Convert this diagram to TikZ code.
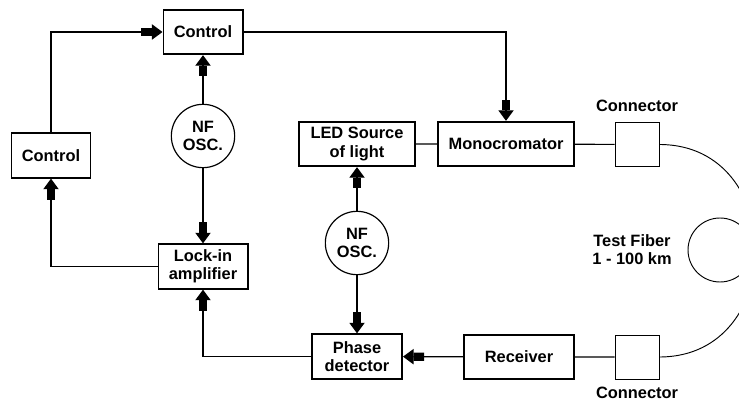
\documentclass[tikz,border=0pt]{standalone}
\usepackage{fontspec}
\setmainfont{Liberation Sans}
\usepackage{tikz}
\usetikzlibrary{arrows.meta,positioning}

\begin{document}
\begin{tikzpicture}[
  x=0.03cm,y=-0.03cm,
  every node/.style={font=\fontsize{14}{15.5}\selectfont\bfseries},
  box/.style={draw,line width=1.7pt,align=center,inner sep=0pt,
              minimum height=1.33cm},
  osc/.style={draw,line width=1pt,circle,align=center,inner sep=0pt,
              minimum size=1.9cm},
  port/.style={draw,line width=0.8pt,minimum size=1.32cm,inner sep=0pt},
  lbl/.style={align=center,inner sep=0pt},
  wire/.style={line width=1pt},
  feed/.style={wire,-{Rectangle[length=9pt,width=7pt]Triangle[length=9pt,width=13pt]}}
]
\useasboundingbox (0,0) rectangle (739,405);
\node[box,minimum width=2.37cm] (ctrlT) at (203,32) {Control};
\node[box,minimum width=2.37cm] (ctrlL) at (51,155.5) {Control};
\node[osc] (osc1) at (203,136) {NF\\OSC.};
\node[box,minimum width=2.67cm] (lockin) at (203,266.5) {Lock-in\\amplifier};
\node[box,minimum width=3.48cm] (led) at (357,144) {LED Source\\of light};
\node[box,minimum width=4.08cm] (mono) at (506,144) {Monocromator};
\node[osc] (osc2) at (357,243) {NF\\OSC.};
\node[box,minimum width=2.7cm] (phase) at (357,356.5) {Phase\\detector};
\node[box,minimum width=3.3cm] (recv) at (519,357) {Receiver};
\node[port] (conT) at (637,144.5) {};
\node[port] (conB) at (637,357) {};
\node[lbl] (conTl) at (637,106) {Connector};
\node[lbl] (conBl) at (637,393) {Connector};
\node[lbl] (fib) at (632,250) {Test Fiber\\1 - 100 km};
\node[draw,line width=0.8pt,circle,minimum size=1.92cm] (coil) at (720,250) {};

\draw[feed] (ctrlL.north) |- (ctrlT.west);
\draw[feed] (ctrlT.east) -| (mono.north);
\draw[feed] (osc1) -- (ctrlT);
\draw[feed] (osc1) -- (lockin);
\draw[feed] (lockin.west) -| (ctrlL.south);
\draw[feed] (phase.west) -| (lockin.south);
\draw[feed] (osc2) -- (led);
\draw[feed] (osc2) -- (phase);
\draw[feed] (recv) -- (phase);
\draw[wire] (led) -- (mono) (mono) -- (conT) (recv) -- (conB);
\draw[line width=0.8pt] (conT.east) to[out=0,in=0,looseness=1.55] (conB.east);
\end{tikzpicture}
\end{document}
